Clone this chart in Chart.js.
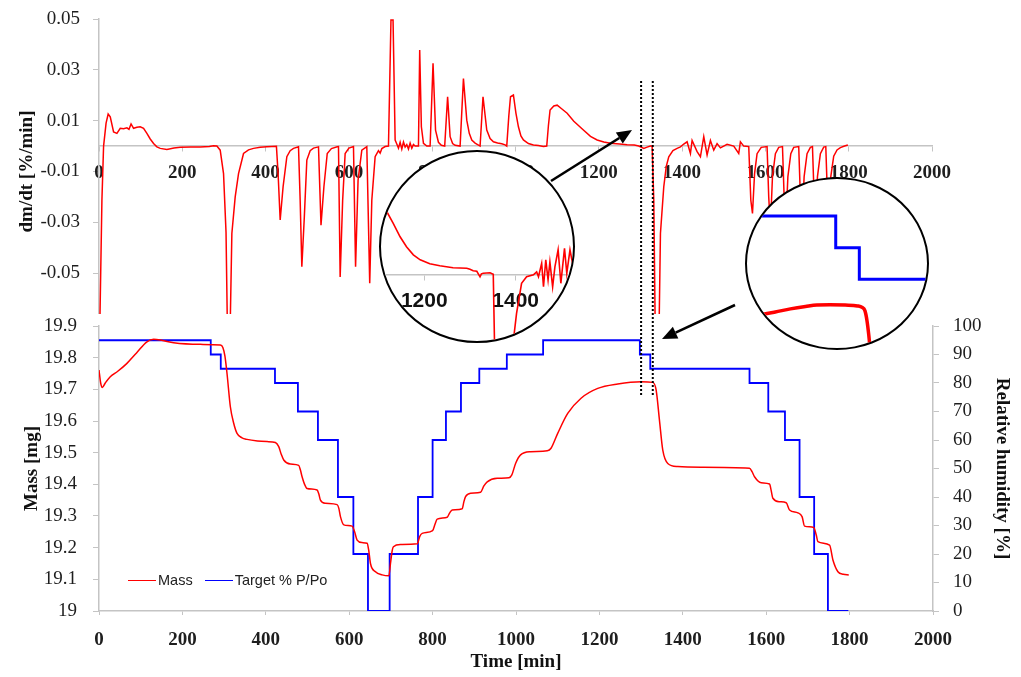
<!DOCTYPE html>
<html>
<head>
<meta charset="utf-8">
<script src="https://cdn.jsdelivr.net/npm/chart.js@4/dist/chart.umd.min.js"></script>
<style>
  body { margin: 0; background: #fff; }
  #wrap { position: relative; width: 1021px; height: 677px; overflow: hidden; }
  #wrap canvas { position: absolute; }
  #rateChart { left: 0; top: 0; }
  #massChart { left: 0; top: 314px; background: #fff; }
  .lens { position: absolute; border: 2px solid #000; border-radius: 50%; overflow: hidden; background: #fff; box-sizing: border-box; }
  .lens canvas { left: 0; top: 0; }
  #lens1 { left: 379px; top: 150px; width: 196px; height: 193px; }
  #lens2 { left: 745px; top: 177px; width: 184px; height: 173px; }
  #legend { position: absolute; left: 128px; top: 571px; font: 14.5px "Liberation Sans", Arial, sans-serif; color: #222; white-space: nowrap; }
  #legend span { display: inline-block; vertical-align: middle; }
  #legend .swatch { width: 28px; height: 0; border-top: 1.6px solid; margin-right: 2px; }
  #overlay { position: absolute; left: 0; top: 0; }
</style>
</head>
<body>
<div id="wrap">
  <canvas id="rateChart" width="1021" height="340"></canvas>
  <canvas id="massChart" width="1021" height="363"></canvas>
  <div class="lens" id="lens1"><canvas id="zoomRate" width="192" height="189"></canvas></div>
  <div class="lens" id="lens2"><canvas id="zoomStep" width="180" height="169"></canvas></div>
  <div id="legend">
    <span class="swatch" style="border-color:#ff0000"></span><span>Mass</span>
    <span class="swatch" style="border-color:#0000ff; margin-left:8px"></span><span>Target % P/Po</span>
  </div>
  <svg id="overlay" width="1021" height="677"></svg>
</div>
<script>
// dm/dt kurve (oben)
const rateTime = [1, 7, 11, 17, 22, 27, 35, 43, 51, 59, 67, 72, 77, 83, 91, 99, 107, 115, 123, 131, 139, 147, 163, 180, 195, 220, 243, 265, 275, 283, 291, 299, 305, 309, 314, 319, 327, 335, 347, 359, 371, 387, 403, 415, 426, 430, 435, 442, 451, 459, 467, 479, 483, 487, 493, 499, 507, 515, 527, 533, 540, 548, 558, 572, 575, 579, 585, 591, 600, 611, 616, 622, 631, 643, 650, 655, 663, 667, 671, 675, 679, 687, 695, 701, 706, 711, 715, 719, 723, 727, 731, 735, 739, 743, 747, 751, 755, 759, 767, 770, 774, 779, 787, 795, 802, 808, 815, 822, 830, 837, 843, 849, 855, 867, 875, 883, 889, 895, 903, 915, 922, 931, 939, 947, 957, 967, 975, 979, 984, 988, 995, 1001, 1007, 1013, 1019, 1031, 1043, 1055, 1067, 1075, 1079, 1083, 1092, 1100, 1110, 1124, 1140, 1163, 1180, 1196, 1212, 1228, 1250, 1268, 1285, 1296, 1308, 1316, 1324, 1328, 1332, 1336, 1344, 1348, 1356, 1362, 1368, 1378, 1388, 1396, 1404, 1412, 1420, 1424, 1436, 1444, 1452, 1460, 1468, 1476, 1484, 1492, 1508, 1524, 1536, 1540, 1548, 1560, 1565, 1569, 1574, 1580, 1590, 1604, 1608, 1612, 1617, 1624, 1632, 1641, 1645, 1649, 1654, 1661, 1668, 1680, 1684, 1688, 1693, 1700, 1708, 1713, 1717, 1720, 1725, 1732, 1740, 1745, 1749, 1752, 1757, 1764, 1772, 1780, 1790, 1798];
const rateValue = [-0.08, -0.0213, 0, 0.009, 0.0126, 0.0115, 0.0056, 0.005, 0.007, 0.0068, 0.0072, 0.0066, 0.0087, 0.007, 0.0074, 0.0076, 0.007, 0.005, 0.0028, 0.001, -0.0003, -0.0009, -0.0013, -0.0008, -0.0005, -0.0004, -0.0004, -0.0002, 0.0001, 0, -0.0016, -0.0108, -0.034, -0.08, -0.08, -0.0344, -0.02, -0.0108, -0.0029, -0.0015, -0.0009, -0.0005, -0.0003, -0.0002, -0.0001, -0.0108, -0.0291, -0.016, -0.0042, -0.0018, -0.0009, -0.0003, -0.0213, -0.0475, -0.0278, -0.0055, -0.0018, -0.0008, -0.0003, -0.0311, -0.016, -0.0029, -0.001, -0.0003, -0.0002, -0.0515, -0.0213, -0.0029, -0.0008, -0.0002, -0.0475, -0.0134, -0.0016, -0.0002, -0.054, -0.0213, -0.0042, -0.003, -0.0018, -0.0028, -0.001, -0.0002, 0, 0.0496, 0.0496, 0.0024, 0.0008, -0.0008, 0.0015, -0.0012, 0.0016, -0.0004, 0.0006, -0.0012, 0.0012, -0.0008, 0.0006, 0, 0, 0.0378, 0.0076, 0.0011, 0, 0, 0.0326, 0.0063, 0.0015, 0.0003, 0, 0.0194, 0.0037, 0.001, 0.0003, 0, 0.0266, 0.0102, 0.005, 0.0024, 0.0012, 0, 0.0194, 0.0063, 0.003, 0.0017, 0.0012, 0.0009, 0.0005, 0, 0.012, 0.0194, 0.0201, 0.013, 0.0076, 0.004, 0.0024, 0.001, 0.0004, 0.0002, -0.0002, 0, 0.008, 0.0142, 0.0158, 0.0161, 0.0148, 0.0129, 0.0098, 0.0063, 0.0038, 0.0024, 0.0016, 0.0011, 0.0008, 0.0005, 0.0004, 0, -0.0009, -0.0004, 0, 0, -0.0213, -0.08, -0.08, -0.0344, -0.016, -0.008, -0.0042, -0.0018, -0.0009, -0.0003, 0.0008, 0.0017, -0.0029, 0.0022, -0.0022, -0.0042, 0.0037, -0.0035, 0.0022, -0.0016, 0.001, -0.0007, 0.0007, 0, -0.0029, 0.0017, 0, -0.0002, -0.0213, -0.0265, -0.0108, -0.003, -0.0005, -0.0002, -0.02, -0.032, -0.012, -0.003, -0.0005, -0.0002, -0.02, -0.031, -0.012, -0.003, -0.0005, -0.0002, -0.02, -0.03, -0.012, -0.003, -0.0005, -0.0002, -0.02, -0.03, -0.012, -0.003, -0.0004, -0.0002, -0.02, -0.03, -0.012, -0.004, -0.0015, -0.0006, 0, 0.0004];

// Masse (unten, linke achse)
const massTime = [0, 4, 8, 15, 27, 45, 67, 90, 115, 131, 150, 179, 243, 291, 297, 302, 307, 315, 323, 331, 343, 355, 380, 403, 423, 431, 437, 443, 459, 479, 483, 487, 493, 499, 523, 527, 531, 543, 571, 575, 579, 587, 607, 613, 619, 631, 643, 647, 651, 663, 679, 695, 699, 703, 706, 723, 763, 769, 775, 800, 806, 811, 835, 841, 847, 871, 875, 879, 891, 915, 923, 931, 955, 983, 990, 999, 1011, 1035, 1075, 1084, 1100, 1124, 1156, 1196, 1244, 1300, 1328, 1336, 1344, 1352, 1364, 1388, 1444, 1560, 1566, 1572, 1588, 1608, 1612, 1616, 1632, 1648, 1656, 1676, 1686, 1692, 1714, 1720, 1724, 1752, 1760, 1772, 1785, 1798];
const massValue = [19.761, 19.72, 19.706, 19.72, 19.74, 19.757, 19.782, 19.815, 19.85, 19.858, 19.855, 19.847, 19.842, 19.84, 19.832, 19.805, 19.75, 19.645, 19.593, 19.561, 19.547, 19.542, 19.537, 19.535, 19.532, 19.519, 19.495, 19.477, 19.464, 19.46, 19.445, 19.424, 19.4, 19.387, 19.382, 19.37, 19.35, 19.34, 19.336, 19.325, 19.298, 19.272, 19.268, 19.25, 19.224, 19.216, 19.214, 19.19, 19.15, 19.124, 19.114, 19.111, 19.15, 19.19, 19.203, 19.21, 19.212, 19.235, 19.245, 19.254, 19.275, 19.29, 19.296, 19.31, 19.319, 19.323, 19.345, 19.361, 19.372, 19.375, 19.395, 19.408, 19.419, 19.421, 19.43, 19.466, 19.493, 19.503, 19.506, 19.514, 19.561, 19.624, 19.672, 19.703, 19.717, 19.724, 19.722, 19.698, 19.603, 19.508, 19.466, 19.456, 19.454, 19.451, 19.44, 19.424, 19.405, 19.401, 19.38, 19.356, 19.345, 19.342, 19.319, 19.31, 19.298, 19.268, 19.264, 19.24, 19.219, 19.208, 19.161, 19.124, 19.116, 19.114];

// Ziel-Feuchte (rechte achse), stufen
const stepTime = [0, 268, 292, 422, 477, 525, 573, 610, 645, 697, 765, 800, 832, 868, 912, 978, 1065, 1297, 1322, 1560, 1605, 1645, 1680, 1715, 1748, 1797];
const stepLevel = [95, 90, 85, 80, 70, 60, 40, 20, 0, 20, 40, 60, 70, 80, 85, 90, 95, 90, 85, 80, 70, 60, 40, 20, 0, 0];

// Lupe 1: dm/dt vergroessert
const zoomRateTime = [1100, 1118, 1132, 1147, 1161, 1176, 1191, 1212, 1234, 1263, 1293, 1300, 1307, 1315, 1322, 1325, 1329, 1344, 1351, 1357, 1393, 1396, 1402, 1413, 1424, 1439, 1446, 1450, 1457, 1461, 1466, 1471, 1475, 1481, 1486, 1493, 1499, 1507, 1512, 1519, 1526, 1535];
const zoomRateValue = [0.0148, 0.0125, 0.0102, 0.0075, 0.0055, 0.0039, 0.0029, 0.0021, 0.0017, 0.0013, 0.0012, 0.001, 0.0007, 0.0006, -0.0005, 0.0001, 0.0002, 0.0003, 0, -0.03, -0.03, -0.0125, -0.0078, -0.0018, -0.0005, -0.0001, 0.0005, -0.0005, 0.0022, -0.0025, 0.0029, -0.0011, 0.0025, -0.0025, 0.0015, 0.0049, -0.0018, 0.0052, 0.0002, 0.0049, 0.0015, 0.003];
const zoomRateTicks = [1200, 1400];

// Lupe 2: stufe und masse um 1300 min
const zoomStepTime = [1190, 1297, 1322, 1400];
const zoomStepLevel = [95, 90, 85, 85];
const zoomMassTime = [1206, 1220, 1233, 1249, 1265, 1277, 1291, 1307, 1320, 1325, 1328, 1330, 1332, 1334];
const zoomMassValue = [19.712, 19.714, 19.7167, 19.7203, 19.7232, 19.725, 19.7252, 19.7248, 19.7238, 19.722, 19.7179, 19.7072, 19.6895, 19.6658];

const serif = '"Liberation Serif", "DejaVu Serif", serif';
const sans = '"Liberation Sans", Arial, sans-serif';
const axisGrey = '#c4c4c4';
const tickText = '#1e1e1e';

function toPoints(xs, ys) {
    return xs.map((x, i) => ({ x: x, y: ys[i] }));
}

function fixWidth(w) {
    return (scale) => { scale.width = w; scale.paddingTop = 0; scale.paddingBottom = 0; };
}

function noPad(scale) {
    scale.paddingLeft = 0;
    scale.paddingRight = 0;
}

Chart.defaults.animation = false;
Chart.defaults.responsive = false;
Chart.defaults.plugins.legend.display = false;
Chart.defaults.plugins.tooltip.enabled = false;

// Oberes diagramm: dm/dt
const rateChart = new Chart(document.getElementById('rateChart'), {
    type: 'line',
    data: {
        datasets: [{
            label: 'dm/dt',
            data: toPoints(rateTime, rateValue),
            borderColor: '#ff0000',
            borderWidth: 1.5,
            pointRadius: 0,
            tension: 0
        }]
    },
    options: {
        layout: { padding: { left: 0, right: 89, top: 19, bottom: 16 } },
        scales: {
            x: {
                type: 'linear',
                min: 0,
                max: 2000,
                position: { y: 0 },
                afterFit: noPad,
                border: { color: axisGrey, width: 1.5 },
                grid: { drawOnChartArea: false, tickLength: 5, color: axisGrey },
                ticks: {
                    stepSize: 200,
                    padding: 11,
                    maxRotation: 0,
                    color: tickText,
                    font: { family: serif, size: 19, weight: 'bold' },
                    callback: v => String(v)
                }
            },
            y: {
                min: -0.07,
                max: 0.05,
                afterFit: fixWidth(99),
                border: { color: axisGrey, width: 1.5 },
                grid: { drawOnChartArea: false, tickLength: 6, color: axisGrey },
                ticks: {
                    stepSize: 0.02,
                    padding: 13,
                    color: tickText,
                    font: { family: serif, size: 19 },
                    callback: v => v.toFixed(2)
                },
                title: {
                    display: true,
                    text: 'dm/dt [%/min]',
                    color: '#111',
                    padding: { top: 16, bottom: 0 },
                    font: { family: serif, size: 19, weight: 'bold' }
                }
            }
        }
    }
});

// Unteres diagramm: masse und feuchte
const massChart = new Chart(document.getElementById('massChart'), {
    type: 'line',
    data: {
        datasets: [
            {
                label: 'Mass',
                data: toPoints(massTime, massValue),
                yAxisID: 'y',
                borderColor: '#ff0000',
                borderWidth: 1.5,
                pointRadius: 0,
                cubicInterpolationMode: 'monotone'
            },
            {
                label: 'Target % P/Po',
                data: toPoints(stepTime, stepLevel),
                yAxisID: 'y1',
                borderColor: '#0000ff',
                borderWidth: 1.8,
                pointRadius: 0,
                stepped: true
            }
        ]
    },
    options: {
        layout: { padding: { left: 0, right: 0, top: 12, bottom: 0 } },
        scales: {
            x: {
                type: 'linear',
                min: 0,
                max: 2000,
                afterFit: (scale) => { scale.height = 66; noPad(scale); },
                border: { color: axisGrey, width: 1.5 },
                grid: { drawOnChartArea: false, tickLength: 4, color: axisGrey },
                ticks: {
                    stepSize: 200,
                    padding: 14,
                    maxRotation: 0,
                    color: tickText,
                    font: { family: serif, size: 19, weight: 'bold' },
                    callback: v => String(v)
                },
                title: {
                    display: true,
                    text: 'Time [min]',
                    color: '#111',
                    padding: { top: 0, bottom: 4 },
                    font: { family: serif, size: 19, weight: 'bold' }
                }
            },
            y: {
                position: 'left',
                min: 19,
                max: 19.9,
                afterFit: fixWidth(99),
                border: { color: axisGrey, width: 1.5 },
                grid: { drawOnChartArea: false, tickLength: 6, color: axisGrey },
                ticks: {
                    stepSize: 0.1,
                    padding: 16,
                    color: tickText,
                    font: { family: serif, size: 19 },
                    callback: v => String(Math.round(v * 10) / 10)
                },
                title: {
                    display: true,
                    text: 'Mass [mg]',
                    color: '#111',
                    padding: { top: 21, bottom: 0 },
                    font: { family: serif, size: 19, weight: 'bold' }
                }
            },
            y1: {
                position: 'right',
                min: 0,
                max: 100,
                afterFit: fixWidth(88),
                border: { color: axisGrey, width: 1.5 },
                grid: { drawOnChartArea: false, tickLength: 6, color: axisGrey },
                ticks: {
                    stepSize: 10,
                    padding: 14,
                    color: tickText,
                    font: { family: serif, size: 19 }
                },
                title: {
                    display: true,
                    text: 'Relative humidity [%]',
                    color: '#111',
                    padding: { top: 8, bottom: 0 },
                    font: { family: serif, size: 19, weight: 'bold' }
                }
            }
        }
    }
});

// Lupe 1
new Chart(document.getElementById('zoomRate'), {
    type: 'line',
    data: {
        datasets: [{
            data: toPoints(zoomRateTime, zoomRateValue),
            borderColor: '#ff0000',
            borderWidth: 1.6,
            pointRadius: 0,
            tension: 0
        }]
    },
    options: {
        layout: { padding: 0 },
        scales: {
            x: {
                type: 'linear',
                min: 1105.2,
                max: 1525.6,
                position: { y: 0 },
                afterFit: noPad,
                afterBuildTicks: (scale) => { scale.ticks = zoomRateTicks.map(v => ({ value: v })); },
                border: { color: axisGrey, width: 1.5 },
                grid: { drawOnChartArea: false, tickLength: 5, color: axisGrey },
                ticks: {
                    autoSkip: false,
                    padding: 9,
                    maxRotation: 0,
                    color: '#111',
                    font: { family: sans, size: 21, weight: 'bold' },
                    callback: v => String(v)
                }
            },
            y: { display: false, min: -0.01334, max: 0.02446 }
        }
    }
});

// Lupe 2
new Chart(document.getElementById('zoomStep'), {
    type: 'line',
    data: {
        datasets: [
            {
                data: toPoints(zoomStepTime, zoomStepLevel),
                yAxisID: 'y1',
                borderColor: '#0000ff',
                borderWidth: 3,
                pointRadius: 0,
                stepped: true
            },
            {
                data: toPoints(zoomMassTime, zoomMassValue),
                yAxisID: 'y',
                borderColor: '#ff0000',
                borderWidth: 3.5,
                pointRadius: 0,
                cubicInterpolationMode: 'monotone'
            }
        ]
    },
    options: {
        layout: { padding: 0 },
        scales: {
            x: { type: 'linear', display: false, min: 1203, max: 1393.7 },
            y: { display: false, min: 19.674, max: 19.874 },
            y1: { display: false, min: 74.15, max: 100.85 }
        }
    }
});

// Hinweislinien und pfeile
const svg = document.getElementById('overlay');
const NS = 'http://www.w3.org/2000/svg';

function addEl(tag, attrs) {
    const el = document.createElementNS(NS, tag);
    for (const k in attrs) el.setAttribute(k, attrs[k]);
    svg.appendChild(el);
    return el;
}

const markTimes = [1300, 1328];
markTimes.forEach(t => {
    const px = massChart.scales.x.getPixelForValue(t);
    addEl('line', { x1: px, x2: px, y1: 81, y2: 397, stroke: '#000', 'stroke-width': 2, 'stroke-dasharray': '2 2' });
});

function arrow(x0, y0, x1, y1) {
    const dx = x1 - x0, dy = y1 - y0;
    const len = Math.hypot(dx, dy);
    const ux = dx / len, uy = dy / len;
    const bx = x1 - ux * 15, by = y1 - uy * 15;
    addEl('line', { x1: x0, y1: y0, x2: bx, y2: by, stroke: '#000', 'stroke-width': 2.6 });
    const p = [x1, y1, bx - uy * 6.5, by + ux * 6.5, bx + uy * 6.5, by - ux * 6.5];
    addEl('polygon', { points: p.join(' '), fill: '#000' });
}

arrow(551, 181, 632, 130);
arrow(735, 305, 662, 339);
</script>
</body>
</html>
